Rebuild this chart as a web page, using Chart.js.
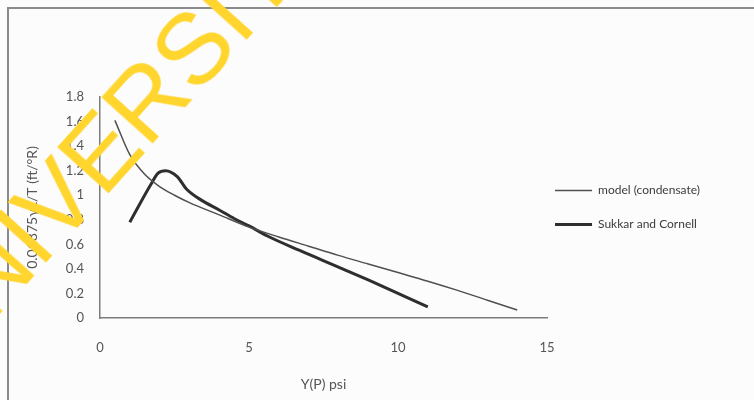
<!DOCTYPE html>
<html>
<head>
<meta charset="utf-8">
<script src="https://cdn.jsdelivr.net/npm/chart.js@4"></script>
<style>
  html, body { margin: 0; padding: 0; background: #fcfcfc; }
  #wrap { position: relative; width: 754px; height: 400px; overflow: hidden; }
  #frame { position: absolute; left: 7px; top: 7px; width: 760px; height: 400px; border: 2px solid #8a8a8a; box-sizing: border-box; }
  #mark { position: absolute; left: -120px; top: 320px; transform-origin: 0 0; transform: rotate(-48deg);
          font-family: "Liberation Sans", sans-serif; font-size: 100px; line-height: 100px; color: #ffd52e;
          white-space: nowrap; pointer-events: none; }
  canvas { position: absolute; left: 0; top: 0; }
</style>
</head>
<body>
<div id="wrap">
  <div id="frame"></div>
  <canvas id="canvas1" width="754" height="400"></canvas>
  <div id="mark">UNIVERSITY</div>
</div>
<script>
// model (condensate)
var model_x = [0.5, 1, 1.5, 2, 2.5, 3, 4, 5, 6, 7, 8, 9, 10, 11, 12, 13, 14];
var model_y = [1.61, 1.33, 1.17, 1.07, 1.0, 0.94, 0.84, 0.74, 0.66, 0.585, 0.51, 0.44, 0.37, 0.3, 0.225, 0.145, 0.065];

// Sukkar and Cornell
var sukkar_x = [1, 1.7, 1.95, 2.2, 2.6, 2.9, 3.4, 4, 4.5, 5, 5.6, 6.7, 8, 9, 10, 11];
var sukkar_y = [0.78, 1.085, 1.18, 1.2, 1.15, 1.05, 0.96, 0.88, 0.81, 0.75, 0.67, 0.55, 0.415, 0.31, 0.2, 0.09];

var x_ticks = [0, 5, 10, 15];
var y_ticks = [0, 0.2, 0.4, 0.6, 0.8, 1, 1.2, 1.4, 1.6, 1.8];

function pts(xs, ys){
    return xs.map(function(x, i){ return {x: x, y: ys[i]}; });
}

// pull the legend a bit closer to the plot, like the excel original
var legendShift = {
    id: 'legendShift',
    afterLayout: function(chart){
        chart.legend.left -= 14;
        chart.legend.right -= 14;
    }
};

Chart.defaults.font.family = "Lato, 'Open Sans', sans-serif";
Chart.defaults.color = '#555';

const ctx = document.getElementById('canvas1').getContext('2d');
const myChart = new Chart(ctx, {
    type: 'line',
    data: {
        datasets: [{
            label: 'model (condensate)',
            data: pts(model_x, model_y),
            borderColor: '#505050',
            borderWidth: 1.5,
            pointRadius: 0,
            cubicInterpolationMode: 'monotone'
        }, {
            label: 'Sukkar and Cornell',
            data: pts(sukkar_x, sukkar_y),
            borderColor: '#2e2e2e',
            borderWidth: 3,
            pointRadius: 0,
            cubicInterpolationMode: 'monotone'
        }]
    },
    options: {
        responsive: false,
        animation: false,
        layout: { padding: { top: 97, right: 30, bottom: 0, left: 0 } },
        scales: {
            x: {
                type: 'linear',
                min: 0, max: 15,
                afterBuildTicks: function(s){ s.ticks = x_ticks.map(function(v){ return {value: v}; }); },
                afterFit: function(s){ s.height = 82; },
                grid: { display: false, drawTicks: false },
                border: { display: true, color: '#7c7c7c', width: 1.5 },
                ticks: { padding: 22, font: { size: 13 }, callback: function(v){ return String(v); } },
                title: { display: true, text: 'Y(P) psi', font: { size: 14 }, padding: { top: 0, bottom: 7 } }
            },
            y: {
                min: 0, max: 1.8,
                afterBuildTicks: function(s){ s.ticks = y_ticks.map(function(v){ return {value: v}; }); },
                afterFit: function(s){ s.width = 100; },
                grid: { display: false, drawTicks: false },
                border: { display: true, color: '#7c7c7c', width: 1.5 },
                ticks: { padding: 16, font: { size: 13 }, callback: function(v){ return String(+v.toFixed(1)); } },
                title: { display: true, text: '0.01875γL/T (ft/°R)', font: { size: 14 }, padding: { top: 24, bottom: 0 } }
            }
        },
        plugins: {
            tooltip: { enabled: false },
            legend: {
                position: 'right',
                fullSize: false,
                labels: {
                    usePointStyle: true,
                    pointStyle: 'line',
                    pointStyleWidth: 37,
                    padding: 22,
                    font: { size: 12 },
                    color: '#3c3c3c'
                }
            }
        }
    },
    plugins: [legendShift]
});
</script>
</body>
</html>
